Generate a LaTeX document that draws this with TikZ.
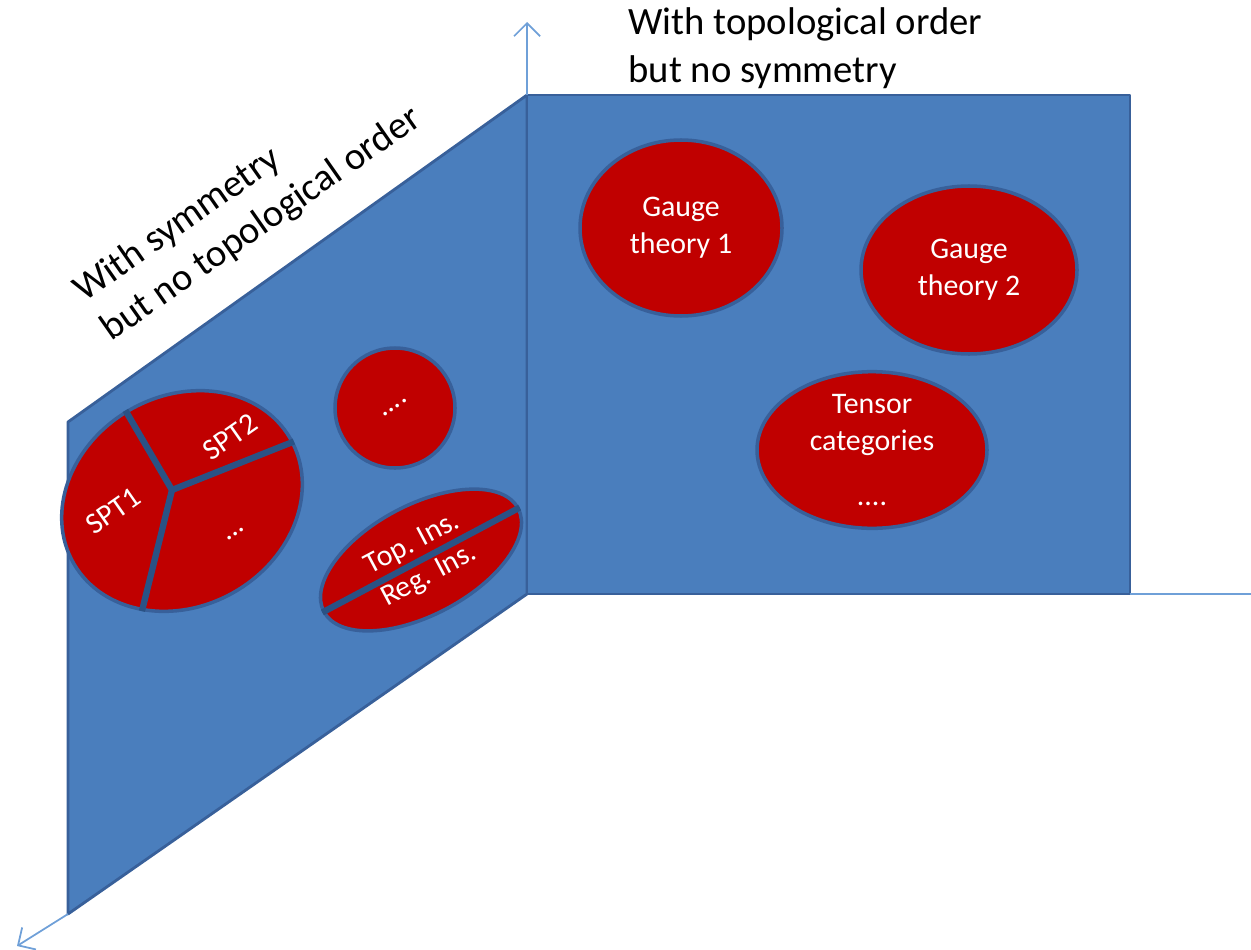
\documentclass[tikz,border=0pt]{standalone}
\usepackage{fontspec}
\setmainfont{Carlito}
\usetikzlibrary{shapes.geometric,arrows.meta}

\definecolor{panelblue}{HTML}{4A7EBD}
\definecolor{paneledge}{HTML}{38609A}
\definecolor{regionred}{HTML}{C00000}
\definecolor{axisblue}{HTML}{6FA0D8}
\definecolor{divblue}{HTML}{2A5285}

\begin{document}
\begin{tikzpicture}[
    panel/.style={fill=panelblue, draw=paneledge, line width=0.8pt, line join=round},
    region/.style={ellipse, fill=regionred, draw=paneledge, line width=1pt, inner sep=0pt,
      text=white, align=center, font=\fontsize{8.5}{10.5}\selectfont},
    divider/.style={divblue, line width=1.8pt},
    axis/.style={axisblue, line width=0.5pt},
    inlabel/.style={text=white, inner sep=1.5pt, font=\fontsize{8.5}{10}\selectfont},
    title/.style={align=left, font=\fontsize{11}{13.5}\selectfont}
  ]
  \useasboundingbox (0,0) rectangle (12.51,9.49);

  % corners of the two planes
  \coordinate (o) at (5.27,3.55);
  \coordinate (top) at (5.27,8.54);
  \coordinate (far) at (11.30,3.55);
  \coordinate (near) at (0.68,0.35);

  % planes
  \draw[panel] (near) -- (o) -- (top) -- (0.68,5.27) -- cycle;
  \draw[panel] (o) rectangle (11.30,8.54);

  % axes
  \coordinate (zend) at (5.27,9.27);
  \coordinate (xend) at (12.51,3.55);
  \coordinate (yend) at (0.17,0.03);
  \draw[axis, -{Straight Barb[length=1.3mm,width=2.6mm]}] (top) -- (zend);
  \draw[axis] (far) -- (xend);
  \draw[axis, -{Straight Barb[length=1.3mm,width=2.6mm]}] (near) -- (yend);

  % plane labels
  \node[title, rotate=35] (symlabel) at (2.48,7.44) {With symmetry\\but no topological order};
  \node[title, anchor=west] (toplabel) at (6.16,9.01) {With topological order\\but no symmetry};

  % topological order side
  \node[region, minimum width=2.02cm, minimum height=1.76cm] (gauge1) at (6.81,7.21) {Gauge\\theory 1};
  \node[region, minimum width=2.16cm, minimum height=1.68cm] (gauge2) at (9.69,6.79) {Gauge\\theory 2};
  \node[region, minimum width=2.30cm, minimum height=1.50cm] (tensor) at (8.72,4.99) {Tensor\\categories\\[5pt]....};

  % symmetry side
  \node[region, minimum width=1.20cm, minimum height=1.20cm] (more) at (3.95,5.41) {};
  \node[inlabel, rotate=35] (moredots) at (more) {....};

  \node[region, rotate=30, minimum width=2.5cm, minimum height=2.1cm] (spt) at (1.82,4.48) {};
  \coordinate (sptmid) at (1.72,4.59);
  \foreach \a in {92,358,220}
    \draw[divider] (sptmid) -- (spt.\a);
  \node[inlabel, rotate=35] (spt1) at (1.13,4.38) {SPT1};
  \node[inlabel, rotate=35] (spt2) at (2.30,5.12) {SPT2};
  \node[inlabel, rotate=35] (sptdots) at (2.36,4.15) {...};

  \node[region, rotate=28, minimum width=2.2cm, minimum height=1.1cm] (ins) at (4.21,3.89) {};
  \draw[divider] (ins.west) -- (ins.east);
  \node[inlabel, rotate=28, anchor=south] (topins) at (ins.center) {Top. Ins.};
  \node[inlabel, rotate=28, anchor=north] (regins) at (ins.center) {Reg. Ins.};
\end{tikzpicture}
\end{document}
